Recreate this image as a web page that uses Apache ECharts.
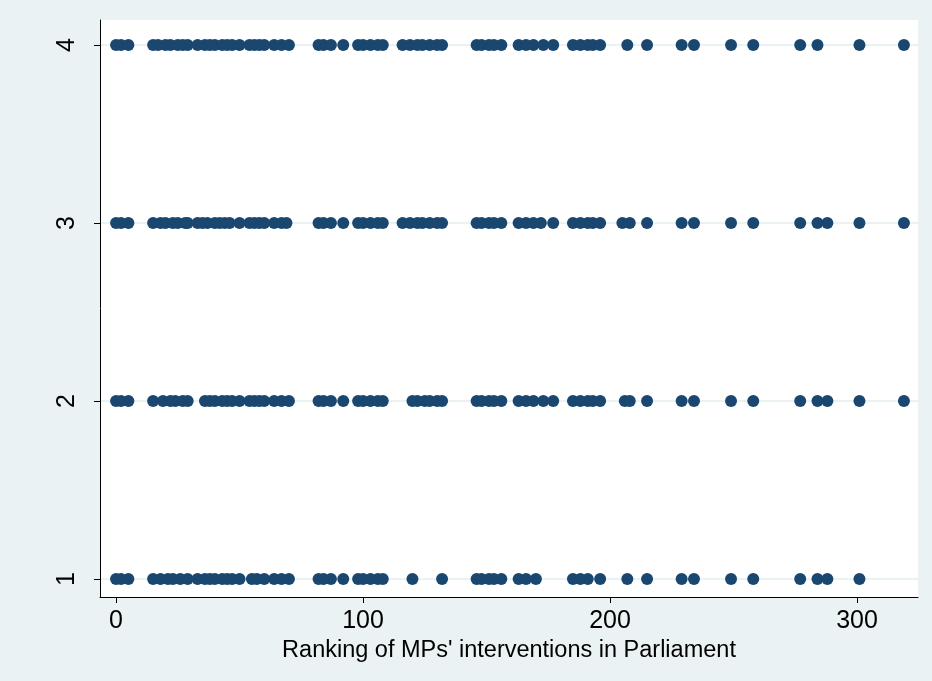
<!DOCTYPE html>
<html>
<head>
<meta charset="utf-8">
<script src="https://cdn.jsdelivr.net/npm/echarts@6/dist/echarts.min.js"></script>
<style>
  html, body { margin: 0; padding: 0; background: #EAF2F3; }
  #chart { width: 932px; height: 681px; }
</style>
</head>
<body>
<div id="chart"></div>
<script>
// Ranking of each MP's interventions, grouped by category level (1-4)
const level4 = [0,2,5,15,17,20,22,25,27,29,33,36,38,40,43,45,47,50,54,56,58,60,64,67,70,82,84,87,92,98,100,103,106,108,116,119,122,124,127,130,132,146,148,151,153,156,163,166,169,173,177,185,188,191,193,196,207,215,229,234,249,258,277,284,301,319];
const level3 = [0,2,5,15,18,20,23,25,28,29,33,35,37,40,42,44,46,50,54,56,58,60,64,67,69,82,84,87,92,98,100,103,106,108,116,119,122,124,127,130,132,146,148,151,153,156,163,166,169,172,177,185,188,191,193,196,205,208,215,229,234,249,258,277,284,288,301,319];
const level2 = [0,2,5,15,19,22,24,27,29,36,38,40,43,45,47,50,54,56,58,60,64,67,70,82,84,87,92,98,100,103,106,108,120,122,125,127,130,132,146,148,151,153,156,163,166,169,173,177,185,188,191,193,196,206,208,215,229,234,249,258,277,284,288,301,319];
const level1 = [0,2,5,15,18,21,23,26,29,33,36,38,40,43,45,47,50,55,57,60,64,67,70,82,84,87,92,98,100,103,106,108,120,132,146,148,151,153,156,163,166,170,185,188,191,196,207,215,229,234,249,258,277,284,288,301];

const xTicks = [0, 100, 200, 300];
const yTicks = [1, 2, 3, 4];
const xTitle = "Ranking of MPs' interventions in Parliament";

const points = [];
[[1, level1], [2, level2], [3, level3], [4, level4]].forEach(([lv, arr]) => {
  arr.forEach(x => points.push([x, lv]));
});

const chart = echarts.init(document.getElementById('chart'), null, { renderer: 'canvas' });
const font = 'Liberation Sans, Arial, sans-serif';
chart.setOption({
  backgroundColor: '#EAF2F3',
  animation: false,
  grid: {
    left: 100, right: 14, top: 20, bottom: 84,
    show: true, backgroundColor: '#FFFFFF', borderWidth: 0
  },
  xAxis: {
    type: 'value',
    min: -6.5, max: 324.7,
    name: xTitle,
    nameLocation: 'middle',
    nameGap: 36,
    nameTextStyle: { fontFamily: font, fontSize: 23.5, color: '#000' },
    axisLine: { show: true, onZero: false, lineStyle: { color: '#000', width: 1 } },
    axisTick: { show: true, length: 6, customValues: xTicks, lineStyle: { color: '#000' } },
    axisLabel: { customValues: xTicks, fontFamily: font, fontSize: 25, color: '#000', margin: 12 },
    splitLine: { show: false }
  },
  yAxis: {
    type: 'value',
    min: 0.899, max: 4.14,
    axisLine: { show: true, onZero: false, lineStyle: { color: '#000', width: 1 } },
    axisTick: { show: true, length: 6, customValues: yTicks, lineStyle: { color: '#000' } },
    axisLabel: { customValues: yTicks, rotate: 90, fontFamily: font, fontSize: 25, color: '#000', margin: 20 },
    splitLine: { show: true, lineStyle: { color: '#E3EEF1', width: 1.5 } }
  },
  series: [{
    type: 'scatter',
    data: points,
    symbol: 'circle',
    symbolSize: 12,
    itemStyle: { color: '#1A476F', opacity: 1 }
  }]
});
</script>
</body>
</html>
